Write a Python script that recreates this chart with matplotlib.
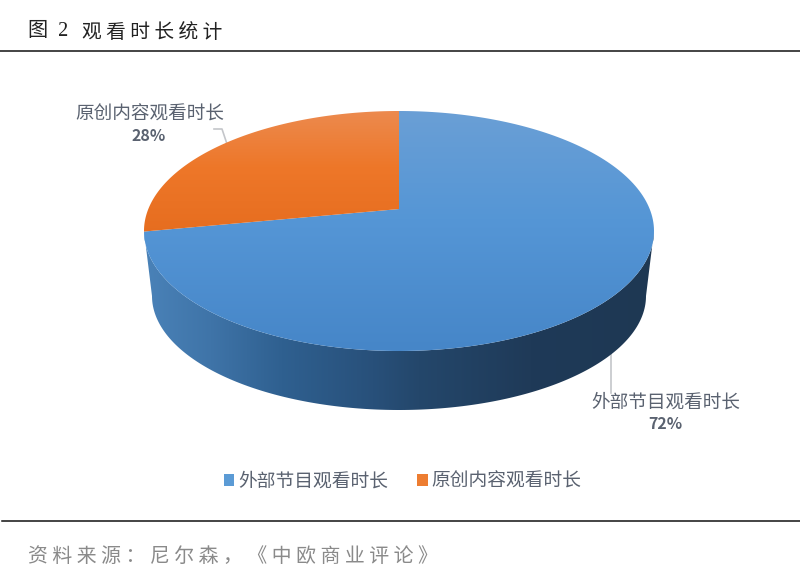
import numpy as np
import matplotlib
matplotlib.use("Agg")
import matplotlib.pyplot as plt
from matplotlib.colors import LinearSegmentedColormap
from matplotlib.patches import Patch, Polygon

plt.rcParams['font.family'] = ['Noto Sans CJK SC', 'DejaVu Sans']

# ====================
# Data
# ====================
categories = ['外部节目观看时长', '原创内容观看时长']
shares = [72, 28]
colors = ['#5b9bd5', '#ed7d31']
title_no = '图  2'
title_text = '观看时长统计'
source_text = '资料来源：尼尔森，《中欧商业评论》'

TEXT_GREY = '#5a6270'

# Geometry of the tilted pie, in pixels
CX, CY, RX, RY = 399, 231, 255, 120
TILT = 0.183
D = np.sqrt(1 - TILT**2)
BOTTOM_CX, BOTTOM_CY, BOTTOM_RX, BOTTOM_RY = 399, 296, 247, 114


def project(theta):
    # theta clockwise from the top of the disc, perspective of the 3D pie
    x, y = np.sin(theta), np.cos(theta)
    w = 1 + TILT * y
    return CX + RX * D * x / w, CY - RY * (y + TILT) / w


def slice_outline(start, stop):
    t = np.linspace(start, stop, 200)
    xs, ys = project(t)
    ax0, ay0 = CX, CY - RY * TILT
    return np.column_stack([np.r_[ax0, xs], np.r_[ay0, ys]])


def gradient_fill(ax, patch, stops, extent, horizontal=False):
    cmap = LinearSegmentedColormap.from_list('g', stops)
    grad = np.linspace(0, 1, 256)
    grad = grad[None, :] if horizontal else grad[:, None]
    ax.add_patch(patch)
    im = ax.imshow(grad, cmap=cmap, extent=extent, origin='upper',
                   aspect='auto', zorder=patch.get_zorder())
    im.set_clip_path(patch)


fig = plt.figure(figsize=(8, 5.76), dpi=100)
ax = fig.add_axes([0, 0, 1, 1])

# Side wall
t = np.linspace(-np.pi / 2, np.pi / 2, 200)
wall_x = BOTTOM_CX + BOTTOM_RX * np.sin(-t)
wall_y = BOTTOM_CY + BOTTOM_RY * np.cos(t)
top_t = np.linspace(0, np.pi, 200)
top_x = CX - RX * np.cos(top_t)
top_y = CY + RY * np.sin(top_t)
wall = np.vstack([
    np.column_stack([top_x, top_y]),
    np.column_stack([wall_x, wall_y]),
])
wall_patch = Polygon(wall, closed=True, fc='none', ec='none', zorder=2)
gradient_fill(ax, wall_patch,
              [(0, '#4a82b8'), (0.13, '#3f74a8'), (0.27, '#2f6090'),
               (0.45, '#28507a'), (0.54, '#24476b'), (0.76, '#1f3a58'),
               (1, '#1e3853')],
              (144, 654, 420, 230), horizontal=True)

# Top face, one gradient per slice
fracs = np.cumsum([0] + shares) / sum(shares) * 2 * np.pi
face_stops = [
    [(0, '#6a9fd5'), (0.45, '#5596d6'), (1, '#4686c8')],
    [(0, '#ec8a4e'), (0.45, '#ee7729'), (1, '#e66d1f')],
]
extents = [(144, 654, 351, 111), (144, 400, 235, 111)]
for i, share in enumerate(shares):
    outline = slice_outline(fracs[i], fracs[i + 1])
    patch = Polygon(outline, closed=True, fc='none', ec='none', zorder=3 + i)
    gradient_fill(ax, patch, face_stops[i], extents[i])

# Leader lines
ax.plot([611, 611], [348, 393], color='#c4c6ca', lw=1.2, zorder=1)
ax.plot([214, 222, 227], [129, 129, 144], color='#c4c6ca', lw=1.2, zorder=1)

# Data labels
ax.text(150, 114.5, categories[1], ha='center', va='center', fontsize=13.4, color=TEXT_GREY)
ax.text(149, 136, f'{shares[1]}%', ha='center', va='center', fontsize=11.5,
        fontweight='bold', color=TEXT_GREY)
ax.text(665.5, 402.5, categories[0], ha='center', va='center', fontsize=13.4, color=TEXT_GREY)
ax.text(665.5, 424, f'{shares[0]}%', ha='center', va='center', fontsize=11.5,
        fontweight='bold', color=TEXT_GREY)

# Legend
handles = [Patch(fc=c, ec='none') for c in colors]
ax.legend(handles, categories, loc='center', bbox_to_anchor=(402.5 / 800, 1 - 481 / 576),
          ncols=2, frameon=False, fontsize=13.5, labelcolor=TEXT_GREY,
          handlelength=0.55, handleheight=0.55, handletextpad=0.21,
          columnspacing=1.57, borderpad=0)

# Title, source and rules
serif = ['Liberation Serif', 'Noto Sans CJK SC']
ax.text(28, 32, title_no, ha='left', va='center', fontsize=14.5, color='#222222', family=serif)
ax.text(82, 32.5, ' '.join(title_text), ha='left', va='center', fontsize=14.2,
        color='#222222')
ax.text(28, 556.5, ' '.join(source_text), ha='left', va='center', fontsize=14.3,
        color='#8a8a8a')
ax.plot([0, 800], [51, 51], color='#111111', lw=1.1)
ax.plot([2, 800], [521, 521], color='#111111', lw=1.1)

ax.set_xlim(0, 800)
ax.set_ylim(576, 0)
ax.axis('off')

fig.savefig('out.png', dpi=100)
